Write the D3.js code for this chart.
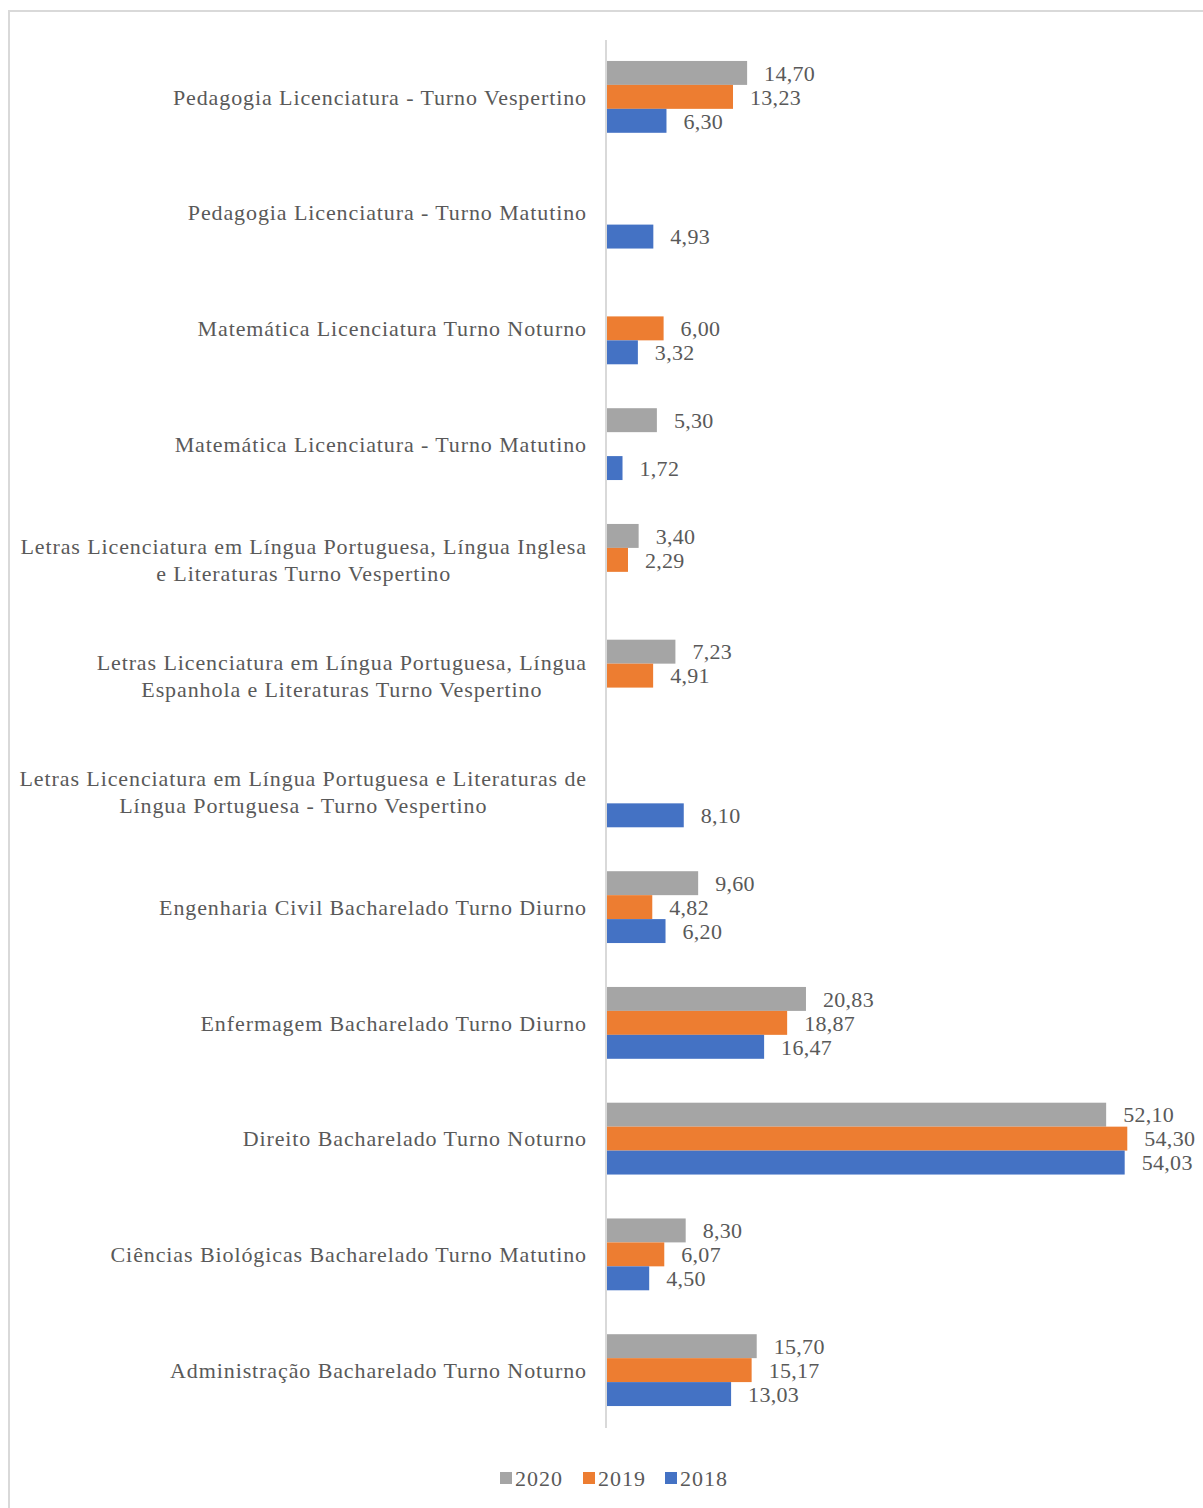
<!DOCTYPE html>
<html>
<head>
<meta charset="utf-8">
<script src="https://cdn.jsdelivr.net/npm/d3@7"></script>
<style>
  body { margin: 0; background: #fff; }
  text { font-family: "Liberation Serif", "Times New Roman", serif; fill: #595959; }
</style>
</head>
<body>
<svg id="chart" width="1203" height="1508"></svg>
<script>
// Categories top to bottom, each label split into lines.
const categories = [
  ["Pedagogia Licenciatura - Turno Vespertino"],
  ["Pedagogia Licenciatura - Turno Matutino"],
  ["Matemática Licenciatura Turno Noturno"],
  ["Matemática Licenciatura - Turno Matutino"],
  ["Letras Licenciatura em Língua Portuguesa, Língua Inglesa", "e Literaturas Turno Vespertino"],
  ["Letras Licenciatura em Língua Portuguesa, Língua", "Espanhola e Literaturas Turno Vespertino"],
  ["Letras Licenciatura em Língua Portuguesa e Literaturas de", "Língua Portuguesa - Turno Vespertino"],
  ["Engenharia Civil Bacharelado Turno Diurno"],
  ["Enfermagem Bacharelado Turno Diurno"],
  ["Direito Bacharelado Turno Noturno"],
  ["Ciências Biológicas Bacharelado Turno Matutino"],
  ["Administração Bacharelado Turno Noturno"]
];
const series = ["2020", "2019", "2018"];
const colors = ["#a5a5a5", "#ed7d31", "#4472c4"];
// null = no bar for that year
const values2020 = [14.70, null, null, 5.30, 3.40, 7.23, null, 9.60, 20.83, 52.10, 8.30, 15.70];
const values2019 = [13.23, null, 6.00, null, 2.29, 4.91, null, 4.82, 18.87, 54.30, 6.07, 15.17];
const values2018 = [6.30, 4.93, 3.32, 1.72, null, null, 8.10, 6.20, 16.47, 54.03, 4.50, 13.03];
const allValues = [values2020, values2019, values2018];

const svg = d3.select("#chart");
const fmt = d3.formatLocale({ decimal: ",", thousands: ".", grouping: [3], currency: ["", ""] }).format(".2f");

// Frame
svg.append("rect")
  .attr("x", 9).attr("y", 11).attr("width", 1203).attr("height", 1508)
  .attr("fill", "none").attr("stroke", "#d9d9d9").attr("stroke-width", 2);

// Scales
const x = d3.scaleLinear().domain([0, 60]).range([606, 1182]);
const y = d3.scaleBand().domain(d3.range(categories.length)).range([39, 1428]);
const y1 = d3.scaleBand().domain(series).range([0, y.bandwidth()]).paddingOuter(0.917);

// Bars and labels
const groups = svg.selectAll("g.cat")
  .data(categories)
  .join("g")
  .attr("class", "cat")
  .attr("transform", (d, i) => `translate(0,${y(i)})`);

series.forEach((s, si) => {
  const pts = allValues[si].map((v, i) => ({ v, i })).filter(d => d.v !== null);
  const g = svg.append("g");
  g.selectAll("rect")
    .data(pts)
    .join("rect")
    .attr("x", x(0))
    .attr("y", d => y(d.i) + y1(s))
    .attr("width", d => x(d.v) - x(0))
    .attr("height", y1.bandwidth())
    .attr("fill", colors[si]);
  g.selectAll("text")
    .data(pts)
    .join("text")
    .attr("x", d => x(d.v) + 17)
    .attr("y", d => y(d.i) + y1(s) + y1.bandwidth() / 2)
    .attr("dy", "0.35em")
    .attr("font-size", 22)
    .attr("letter-spacing", 0.3)
    .text(d => fmt(d.v));
});

// Category labels (multi-line centered within block, block right-aligned)
groups.each(function(lines) {
  const g = d3.select(this);
  const t = g.append("text")
    .attr("font-size", 22)
    .attr("letter-spacing", 0.9)
    .attr("text-anchor", "middle");
  const lh = 27;
  lines.forEach((ln, k) => {
    t.append("tspan")
      .attr("y", y.bandwidth() / 2 + (k - (lines.length - 1) / 2) * lh)
      .attr("dy", "0.35em")
      .text(ln);
  });
  // measure width of widest line, then place centers
  const widths = [];
  t.selectAll("tspan").each(function() { widths.push(this.getComputedTextLength()); });
  const maxW = d3.max(widths);
  t.selectAll("tspan").attr("x", 587 - maxW / 2);
});

// Axis line
svg.append("line")
  .attr("x1", x(0)).attr("x2", x(0))
  .attr("y1", 40).attr("y2", 1428)
  .attr("stroke", "#d9d9d9").attr("stroke-width", 2);

// Legend
const legendX = [500, 583, 665];
const legend = svg.append("g");
series.forEach((s, si) => {
  legend.append("rect")
    .attr("x", legendX[si]).attr("y", 1472)
    .attr("width", 12).attr("height", 12)
    .attr("fill", colors[si]);
  legend.append("text")
    .attr("x", legendX[si] + 15).attr("y", 1478)
    .attr("dy", "0.35em")
    .attr("font-size", 22)
    .attr("letter-spacing", 1)
    .text(s);
});
</script>
</body>
</html>
